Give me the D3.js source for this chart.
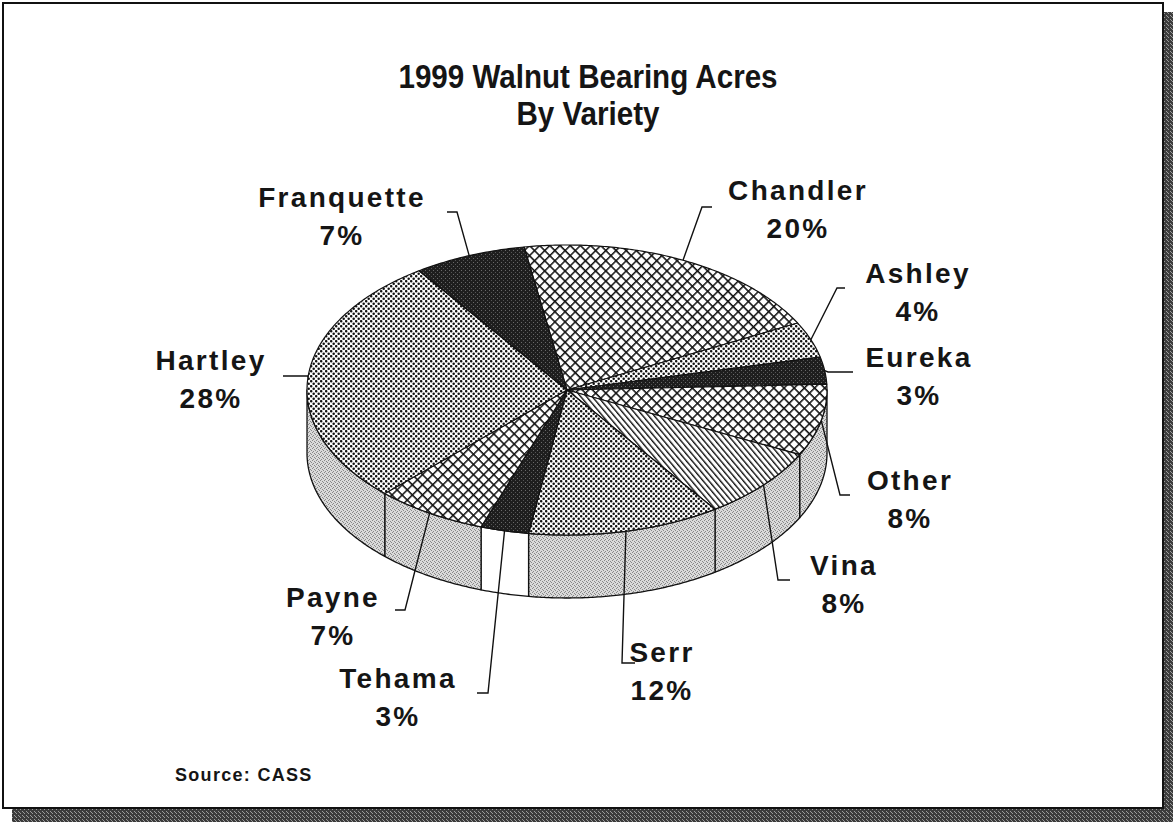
<!DOCTYPE html>
<html>
<head>
<meta charset="utf-8">
<title>1999 Walnut Bearing Acres</title>
<style type="text/css">
    html, body { margin: 0; padding: 0; background: #fff; }
    text { font-family: "Liberation Sans", Arial, sans-serif; font-weight: bold; fill: #151515; }
</style>
</head>
<body>
<svg id="svg" width="1175" height="825"></svg>

<script src="https://cdn.jsdelivr.net/npm/d3@7/dist/d3.min.js"></script>
<script type="text/javascript">
    // data, clockwise from the top
    var varieties = ['Chandler', 'Ashley', 'Eureka', 'Other', 'Vina', 'Serr', 'Tehama', 'Payne', 'Hartley', 'Franquette'];
    var shares = [20, 4, 3, 8, 8, 12, 3, 7, 28, 7];
    var titleLines = ['1999 Walnut Bearing Acres', 'By Variety'];
    var sourceNote = 'Source: CASS';

    // fill pattern of each slice (style, not data)
    var topFill = ['cross', 'dots', 'dark', 'cross', 'stripe', 'dots', 'dark', 'cross', 'dots', 'dark'];
    var sideFill = ['grain', 'grain', 'grain', 'grain', 'grain', 'grain', 'white', 'grain', 'grain', 'grain'];

    // label layout: text centre x, first baseline y, leader elbow and leader end
    var labelLayout = [
        {x: 797, y: 200, ex: 702, ey: 207, tx: 712, ty: 207},
        {x: 917, y: 283, ex: 837, ey: 288, tx: 845, ty: 288},
        {x: 918, y: 367, ex: 828, ey: 372, tx: 853, ty: 372},
        {x: 909, y: 490, ex: 840, ey: 495, tx: 850, ty: 495},
        {x: 843, y: 575, ex: 778, ey: 580, tx: 790, ty: 580},
        {x: 661, y: 662, ex: 622, ey: 663, tx: 635, ty: 663},
        {x: 397, y: 688, ex: 488, ey: 693, tx: 477, ty: 693},
        {x: 332, y: 607, ex: 405, ey: 610, tx: 395, ty: 610},
        {x: 210, y: 370, ex: 308, ey: 376, tx: 283, ty: 376},
        {x: 341, y: 207, ex: 457, ey: 212, tx: 447, ty: 212}
    ];

    var cx = 567, cy = 390, rx = 260, ry = 145, depth = 63;
    var startDeg = -9.5;

    var svg = d3.select('#svg');
    var defs = svg.append('defs');

    // ---- patterns ----
    var p = defs.append('pattern').attr('id', 'dots').attr('patternUnits', 'userSpaceOnUse')
        .attr('width', 5).attr('height', 5);
    p.append('rect').attr('width', 5).attr('height', 5).attr('fill', '#fff');
    p.append('circle').attr('cx', 1.2).attr('cy', 1.2).attr('r', 1.25).attr('fill', '#111');
    p.append('circle').attr('cx', 3.7).attr('cy', 3.7).attr('r', 1.25).attr('fill', '#111');

    p = defs.append('pattern').attr('id', 'cross').attr('patternUnits', 'userSpaceOnUse')
        .attr('width', 7.2).attr('height', 7.2).attr('patternTransform', 'rotate(45)');
    p.append('rect').attr('width', 7.2).attr('height', 7.2).attr('fill', '#fff');
    p.append('path').attr('d', 'M0,0.7H7.2M0.7,0V7.2').attr('stroke', '#111').attr('stroke-width', 1.6);

    p = defs.append('pattern').attr('id', 'stripe').attr('patternUnits', 'userSpaceOnUse')
        .attr('width', 4.4).attr('height', 4.4).attr('patternTransform', 'rotate(-40)');
    p.append('rect').attr('width', 4.4).attr('height', 4.4).attr('fill', '#fff');
    p.append('path').attr('d', 'M0.7,0V4.4').attr('stroke', '#111').attr('stroke-width', 1.4);

    p = defs.append('pattern').attr('id', 'dark').attr('patternUnits', 'userSpaceOnUse')
        .attr('width', 4).attr('height', 4);
    p.append('rect').attr('width', 4).attr('height', 4).attr('fill', '#1e1e1e');
    p.append('rect').attr('x', 1).attr('y', 2).attr('width', 1).attr('height', 1).attr('fill', '#6a6a6a');
    p.append('rect').attr('x', 3).attr('y', 0).attr('width', 1).attr('height', 1).attr('fill', '#555');

    p = defs.append('pattern').attr('id', 'grain').attr('patternUnits', 'userSpaceOnUse')
        .attr('width', 4).attr('height', 4);
    p.append('rect').attr('width', 4).attr('height', 4).attr('fill', '#dadada');
    [[0, 0], [2, 1], [1, 3], [3, 2]].forEach(function (q) {
        p.append('rect').attr('x', q[0]).attr('y', q[1]).attr('width', 1).attr('height', 1).attr('fill', '#888');
    });

    p = defs.append('pattern').attr('id', 'shade').attr('patternUnits', 'userSpaceOnUse')
        .attr('width', 4).attr('height', 4);
    p.append('rect').attr('width', 4).attr('height', 4).attr('fill', '#3c3c3c');
    [[0, 1], [2, 3], [3, 0]].forEach(function (q) {
        p.append('rect').attr('x', q[0]).attr('y', q[1]).attr('width', 1).attr('height', 1).attr('fill', '#9a9a9a');
    });

    function fillOf(k) { return k === 'white' ? '#fff' : 'url(#' + k + ')'; }

    // ---- frame with drop shadow ----
    svg.append('rect').attr('x', 12).attr('y', 12).attr('width', 1161).attr('height', 810).attr('fill', 'url(#shade)');
    svg.append('rect').attr('x', 3).attr('y', 3).attr('width', 1160).attr('height', 805)
        .attr('fill', '#fff').attr('stroke', '#111').attr('stroke-width', 2);

    // ---- title (narrow, tall lettering) ----
    svg.append('g').selectAll('text').data(titleLines).enter().append('text')
        .attr('transform', function (d, i) { return 'translate(588,' + (88 + i * 37) + ') scale(0.87,1)'; })
        .attr('text-anchor', 'middle').attr('font-size', 34)
        .text(function (d) { return d; });

    svg.append('text').attr('x', 175).attr('y', 781).attr('font-size', 18).attr('letter-spacing', 1.3)
        .text(sourceNote);

    // ---- pie ----
    var data = varieties.map(function (v, i) { return {name: v, value: shares[i], i: i}; });
    var a0 = startDeg * Math.PI / 180;
    var pie = d3.pie().sort(null).value(function (d) { return d.value; })
        .startAngle(a0).endAngle(a0 + 2 * Math.PI);
    var arcs = pie(data);

    // projected circle: x from sin, y from cos
    var xs = d3.scaleLinear().domain([-1, 1]).range([cx - rx, cx + rx]);
    var ys = d3.scaleLinear().domain([-1, 1]).range([cy + ry, cy - ry]);
    function pt(a, dy) { return [xs(Math.sin(a)), ys(Math.cos(a)) + (dy || 0)]; }
    function rim(s, e, dy) {
        var n = Math.max(2, Math.ceil((e - s) / 0.01)), out = [];
        for (var k = 0; k <= n; k++) out.push(pt(s + (e - s) * k / n, dy));
        return out;
    }
    var line = d3.line();

    // side walls (front half only)
    var sides = arcs.map(function (d) {
        var s = Math.max(d.startAngle, Math.PI / 2), e = Math.min(d.endAngle, 3 * Math.PI / 2);
        if (e <= s) return null;
        var pts = rim(s, e, 0).concat(rim(s, e, depth).reverse());
        return {d: d, path: line(pts) + 'Z'};
    }).filter(Boolean);

    svg.append('g').selectAll('path').data(sides).enter().append('path')
        .attr('d', function (s) { return s.path; })
        .attr('fill', function (s) { return fillOf(sideFill[s.d.data.i]); })
        .attr('stroke', '#111').attr('stroke-width', 1.3).attr('stroke-linejoin', 'round');

    // top face
    svg.append('g').selectAll('path').data(arcs).enter().append('path')
        .attr('d', function (d) {
            return line([[xs(0), ys(0)]].concat(rim(d.startAngle, d.endAngle, 0))) + 'Z';
        })
        .attr('fill', function (d) { return fillOf(topFill[d.data.i]); })
        .attr('stroke', '#111').attr('stroke-width', 1.2).attr('stroke-linejoin', 'round');

    // leader lines and labels
    var lab = svg.append('g');
    arcs.forEach(function (d) {
        var L = labelLayout[d.data.i];
        var mid = (d.startAngle + d.endAngle) / 2;
        var start = pt(mid, 0);
        lab.append('path')
            .attr('d', line([start, [L.ex, L.ey], [L.tx, L.ty]]))
            .attr('fill', 'none').attr('stroke', '#111').attr('stroke-width', 1.4);
        var t = lab.append('text').attr('text-anchor', 'middle').attr('font-size', 28)
            .attr('letter-spacing', 2.3);
        t.append('tspan').attr('x', L.x + 1).attr('y', L.y).text(d.data.name);
        t.append('tspan').attr('x', L.x + 1).attr('y', L.y + 38).text(d.data.value + '%');
    });
</script>
</body>
</html>
